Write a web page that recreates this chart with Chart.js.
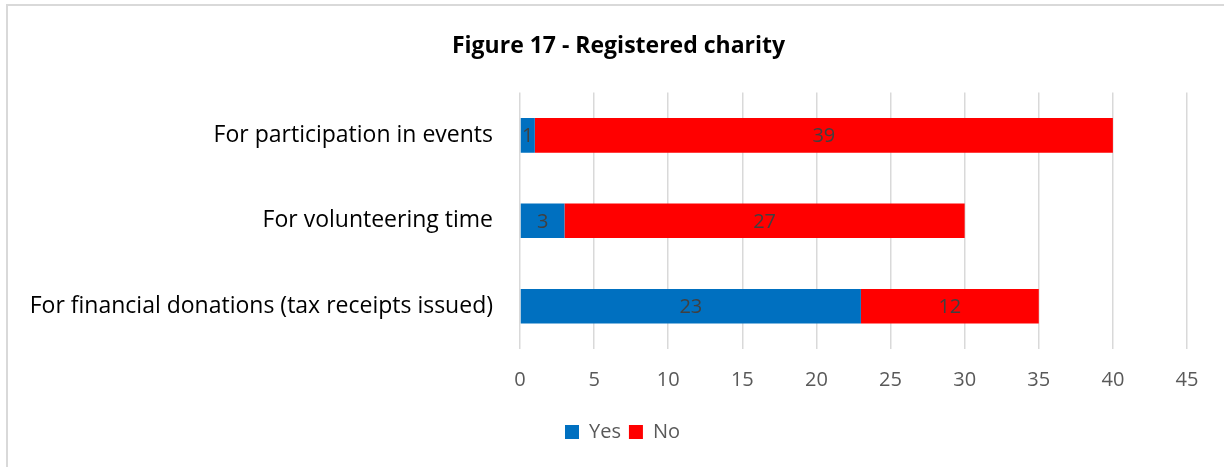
<!DOCTYPE html>
<html>
<head>
<meta charset="utf-8">
<script src="https://cdn.jsdelivr.net/npm/chart.js@4.4.0/dist/chart.umd.min.js"></script>
<style>
  html, body { margin: 0; padding: 0; background: #fff; }
  #wrap { position: relative; width: 1224px; height: 467px; overflow: hidden; }
  #frame { position: absolute; left: 6px; top: 4px; width: 1240px; height: 480px; border: 2px solid #d9d9d9; box-sizing: border-box; pointer-events: none; }
  canvas { position: absolute; left: 0; top: 0; }
</style>
</head>
<body>
<div id="wrap">
  <canvas id="c" width="1224" height="467"></canvas>
  <div id="frame"></div>
</div>
<script>
const categories = ["For participation in events", "For volunteering time", "For financial donations (tax receipts issued)"];
const yesValues = [1, 3, 23];
const noValues = [39, 27, 12];
const xTicks = [0, 5, 10, 15, 20, 25, 30, 35, 40, 45];
const seriesNames = ["Yes", "No"];

const FONT = "'Open Sans', 'Liberation Sans', sans-serif";

const dataLabels = {
  id: 'dataLabels',
  afterDatasetsDraw(chart) {
    const ctx = chart.ctx;
    ctx.save();
    ctx.font = "20px " + FONT;
    ctx.fillStyle = '#404040';
    ctx.textAlign = 'center';
    ctx.textBaseline = 'middle';
    chart.data.datasets.forEach((ds, di) => {
      const meta = chart.getDatasetMeta(di);
      meta.data.forEach((el, i) => {
        const v = ds.data[i];
        const cx = (el.x + el.base) / 2;
        ctx.fillText(String(v), cx, el.y + 1);
      });
    });
    ctx.restore();
  }
};

const boxShift = {
  id: 'boxShift',
  afterLayout(chart) {
    const lg = chart.legend;
    if (lg) { lg.left += 29; lg.right += 29; }
    const tt = chart.titleBlock;
    if (tt) { tt.left += 25; tt.right += 25; }
  }
};

new Chart(document.getElementById('c'), {
  type: 'bar',
  data: {
    labels: categories,
    datasets: [
      { label: seriesNames[0], data: yesValues, backgroundColor: '#0070C0', borderWidth: 0 },
      { label: seriesNames[1], data: noValues, backgroundColor: '#FF0000', borderWidth: 0 }
    ]
  },
  options: {
    indexAxis: 'y',
    responsive: false,
    animation: false,
    devicePixelRatio: 1,
    layout: { padding: { left: 0, right: 37, top: 0, bottom: 15 } },
    categoryPercentage: 1,
    barPercentage: 0.405,
    scales: {
      x: {
        stacked: true,
        min: 0,
        max: 45,
        afterBuildTicks(scale) { scale.ticks = xTicks.map(v => ({ value: v })); },
        afterFit(scale) { scale.height = 65; },
        ticks: { color: '#595959', font: { family: FONT, size: 20 }, padding: 19 },
        grid: { color: '#d9d9d9', lineWidth: 1.5, drawTicks: false },
        border: { display: false }
      },
      y: {
        stacked: true,
        afterFit(scale) { scale.width = 520; },
        ticks: { color: '#000000', font: { family: FONT, size: 23 }, padding: 27 },
        grid: { display: false, drawTicks: false },
        border: { display: false }
      }
    },
    plugins: {
      title: {
        display: true,
        text: 'Figure 17 - Registered charity',
        color: '#000000',
        font: { family: FONT, size: 23, weight: 'bold' },
        padding: { top: 33, bottom: 32 }
      },
      legend: {
        position: 'bottom',
        labels: {
          color: '#595959',
          font: { family: FONT, size: 20 },
          boxWidth: 14,
          boxHeight: 14,
          padding: 8
        }
      },
      tooltip: { enabled: false }
    }
  },
  plugins: [dataLabels, boxShift]
});
</script>
</body>
</html>
